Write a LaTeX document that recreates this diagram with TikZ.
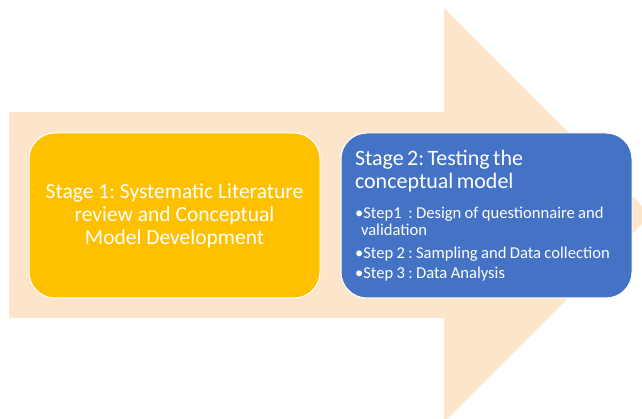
\documentclass[tikz,border=0pt]{standalone}
\usepackage{fontspec}
\setmainfont{Carlito}
\usetikzlibrary{positioning}
\definecolor{peach}{HTML}{FDE5CC}
\definecolor{amber}{HTML}{FFC000}
\definecolor{steel}{HTML}{4472C4}
\frenchspacing

\begin{document}
\begin{tikzpicture}[x=1pt,y=1pt,node distance=20pt,
    stage box/.style={rectangle,rounded corners=26pt,draw=white,line width=1pt,minimum width=291pt,minimum height=165pt,text=white,inner sep=0pt}]
  \useasboundingbox (0,0) rectangle (642,419);
  \clip (0,0) rectangle (642,419);
  % big arrow behind the stages
  \fill[peach] (9,101) -- (9,307) -- (444,307) -- (444,411) -- (651,204) -- (444,-3) -- (444,101) -- cycle;

  \node[stage box,fill=amber,align=center,font=\fontsize{21.5}{23}\selectfont] (s1) at (174.5,203.5)
    {Stage 1: Systematic Literature\\review and Conceptual\\Model Development};
  \node[stage box,fill=steel,right=of s1,text width=263pt,align=left] (s2)
    {\fontsize{22}{23.5}\selectfont Stage 2: Testing the\\conceptual model\par
     \vspace{12pt}
     \fontsize{16.6}{17.5}\selectfont •Step1\ \ : Design of questionnaire and\\\hspace*{6pt}validation\\[5pt]
     •Step 2 : Sampling and Data collection\\[3pt]
     •Step 3 : Data Analysis\par};
\end{tikzpicture}
\end{document}
